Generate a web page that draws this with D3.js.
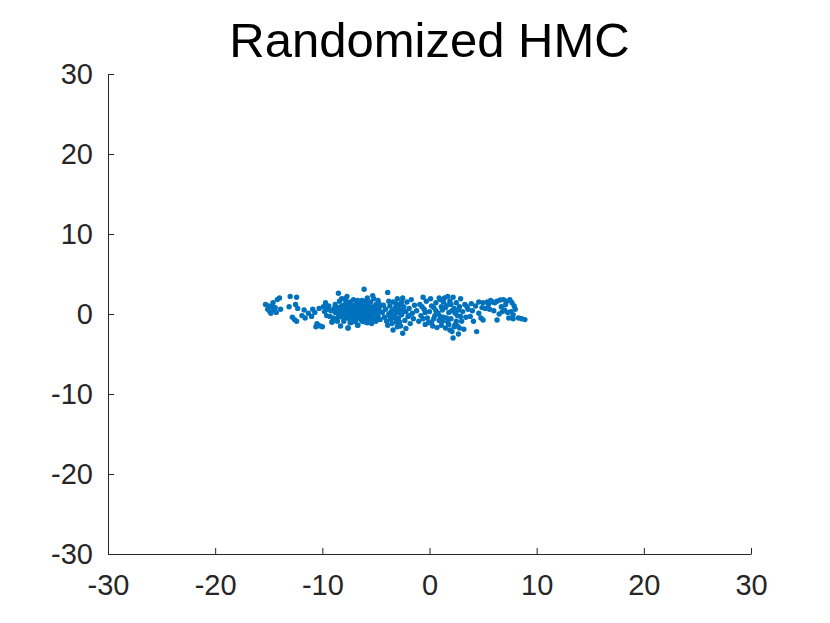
<!DOCTYPE html>
<html lang="en">
<head>
    <meta charset="UTF-8">
    <script src="https://cdnjs.cloudflare.com/ajax/libs/d3/7.8.5/d3.min.js"></script>
    <title>Randomized HMC</title>
    <style>
        body { margin: 0; background: #fff; }
        text { font-family: "Liberation Sans", Arial, Helvetica, sans-serif; }
    </style>
</head>
<body>
<script>

    // sample points, grouped by region along x
    let ptsWest = [
        [-15.3,1.2],[-15.1,0.6],[-14.9,0.3],[-14.7,0.9],[-14.5,0.5],[-14.3,0.2],[-14.6,1.4],[-14.2,1.8],
        [-14.0,2.0],[-14.4,0.8],[-15.0,1.0],[-13.9,0.6],[-13.0,2.2],[-12.4,2.1],[-13.1,0.9],[-12.5,1.2],
        [-12.3,0.7],[-12.6,-0.7],[-12.4,-0.9],[-11.7,0.5],[-11.3,0.1],[-11.6,-0.5],[-11.0,-0.3],[-11.9,-0.2],
        [-12.8,-0.4],[-10.7,0.2],[-10.3,0.7],[-9.9,0.9],[-10.4,-1.4],[-10.6,-1.6],[-10.2,-1.5],[-10.5,-1.2],
        [-10.0,-1.6],[-9.8,0.3],[-9.6,-0.2],[-9.4,1.0],[-9.2,0.4],[-9.0,-0.5],[-9.1,-1.0],[-9.5,0.6],[-9.3,-0.3],
        [-14.8,0.1],[-10.9,0.6],[-9.7,1.4]
    ];

    let ptsCore = [
        [-8.8,0.2],[-8.8,1.2],[-8.7,-0.6],[-8.5,2.6],[-8.5,0.8],[-8.4,-0.2],[-8.3,-1.5],[-8.6,0.1],[-8.4,1.6],
        [-8.2,0.5],[-8.1,-0.4],[-8.2,1.9],[-8.0,1.1],[-8.1,0.0],[-8.0,-0.9],[-7.9,0.3],[-7.8,0.9],[-7.7,-0.2],
        [-7.8,1.6],[-7.6,-1.75],[-7.7,2.2],[-7.6,0.5],[-7.5,-0.6],[-7.4,0.1],[-7.3,1.2],[-7.4,-1.1],[-7.2,0.7],
        [-7.3,-0.3],[-7.1,1.8],[-7.2,0.0],[-7.0,-0.8],[-7.1,0.4],[-7.0,1.0],[-6.9,-0.1],[-6.9,0.6],[-6.8,-0.5],
        [-6.8,1.4],[-6.7,0.2],[-6.7,-1.4],[-6.6,0.8],[-6.6,-0.2],[-6.5,0.3],[-6.5,1.1],[-6.4,-0.7],[-6.4,0.0],
        [-6.3,0.6],[-6.3,1.7],[-6.2,-0.3],[-6.2,0.9],[-6.1,3.1],[-6.1,0.1],[-6.0,-1.0],[-6.0,0.5],[-5.9,1.3],
        [-5.9,-0.1],[-5.8,0.8],[-5.8,2.0],[-5.7,0.2],[-5.7,-0.6],[-5.6,1.0],[-5.6,0.4],[-5.5,-0.2],[-5.5,1.5],
        [-5.4,0.7],[-5.4,-1.2],[-5.3,0.1],[-5.3,2.3],[-5.2,0.9],[-5.2,-0.5],[-5.1,0.4],[-5.0,1.2],[-5.0,-0.9],
        [-4.9,0.6],[-4.9,0.0],[-4.8,1.7],[-4.8,-0.3],[-4.7,0.8],[-4.6,-0.7],
        [-8.3,0.4],[-7.9,-0.5],[-7.5,0.8],[-7.0,0.2],[-6.8,0.0],[-6.6,0.4],[-6.4,1.2],[-6.2,0.3],[-6.9,1.1],
        [-7.3,0.5],[-7.6,-0.2],[-5.9,0.6],[-5.6,-0.3],[-6.1,-0.4],[-7.1,-0.4],[-6.5,-0.3],[-8.0,0.6],[-7.8,0.0],
        [-6.0,0.0],[-5.4,0.3],[-9.1,-1.0],[-7.6,-1.75],[-6.7,-1.4],[-5.8,-1.1],[-5.1,-0.75],[-7.2,-1.0],
        [-6.3,-0.9],[-8.6,-0.9],[-7.7,1.3],[-6.0,1.6],[-5.2,1.9],[-8.9,0.7],
        [-8.7,0.5],[-8.5,-0.4],[-8.2,1.0],[-7.9,1.9],[-7.5,0.2],[-7.4,1.5],[-7.0,0.6],[-6.7,1.7],[-6.5,0.7],
        [-6.3,0.2],[-6.0,0.9],[-5.7,1.3],[-5.5,0.5],[-5.3,-0.8],[-5.0,0.2],[-4.7,1.3],[-4.6,0.3],[-6.9,-0.9],
        [-7.7,0.6],[-8.0,-0.3]
    ];

    let ptsMid = [
        [-4.4,0.2],[-4.2,-0.4],[-4.1,0.6],[-3.9,2.7],[-3.9,-1.4],[-3.8,0.0],[-3.7,1.0],[-3.6,-0.7],[-3.5,0.4],
        [-3.4,-2.0],[-3.4,1.5],[-3.3,-0.2],[-3.2,0.8],[-3.1,-1.0],[-3.0,0.2],[-3.0,1.9],[-2.9,-0.5],[-2.8,1.2],
        [-2.7,-1.5],[-2.7,0.5],[-2.6,-0.1],[-2.5,2.0],[-2.5,-2.4],[-2.4,0.9],[-2.3,-0.8],[-2.2,0.3],[-2.1,1.5],
        [-2.0,-0.3],[-1.9,0.7],[-1.8,-1.2],[-1.7,1.8],[-1.6,0.1],[-1.5,-0.6],[-1.4,1.1],[-3.6,0.2],[-3.2,-0.5],
        [-2.9,0.6],[-3.5,-1.2],[-2.6,1.5],[-4.0,-0.9],[-3.8,1.6],[-2.2,-1.8],[-1.9,-0.2],
        [-3.3,0.5],[-3.1,1.3],[-2.8,-1.0],[-3.7,-0.3],[-2.4,0.3],[-3.0,-1.6],[-4.3,1.1],
        [-1.2,0.4],[-1.0,-0.9],[-0.9,1.2],[-0.8,-0.2],[-0.6,2.1],[-0.5,0.6],[-0.4,-1.3],[-0.3,1.6],[-0.2,-0.5],
        [0.0,0.3],[0.1,1.9],[0.2,-1.0],[0.3,-1.5],[0.4,0.8],[0.5,-0.2],[0.6,1.4],[0.7,-1.7],[0.8,0.1],[0.9,-0.8],
        [1.0,1.8],[1.1,-1.4],[1.2,0.5],[1.3,-0.4],[1.4,2.0],[1.5,-1.75],[1.6,1.1],[1.7,-1.0],[1.8,0.2],[1.9,1.6],
        [2.0,-0.6],[2.1,-2.2],[2.2,2.1],[2.2,-3.0],[2.3,0.7],[2.4,-1.3],[2.5,1.4],[2.6,-0.2],[2.7,-2.5],
        [2.8,-1.75],[2.8,0.9],[2.9,1.9],[3.0,-0.9],[3.1,0.3],[3.2,-1.9],[3.3,1.2],[3.4,-0.4],
        [-0.7,0.9],[0.2,1.0],[1.0,-0.3],[1.5,0.8],[2.0,1.2],[2.5,-0.9],[0.6,0.4],[-0.1,-1.1],[1.3,1.5],
        [2.9,-0.3],[0.9,2.0],[1.8,-1.3],[2.4,0.1],[1.1,0.9],[-0.4,0.2],[1.7,2.2],[2.6,-1.5],
        [1.9,-2.0],[2.3,-1.6],[1.6,-0.5],[2.1,0.4],[0.4,-0.6],[-0.6,-0.6],[1.2,-0.9],[2.7,0.5]
    ];

    let ptsEast = [
        [3.6,0.6],[3.5,0.9],[3.8,-0.3],[4.0,0.4],[4.1,-0.9],[4.4,-2.2],[4.3,1.0],[4.6,0.1],[4.8,-0.5],
        [5.0,-0.75],[5.2,0.7],[5.4,1.5],[5.5,1.2],[5.7,1.7],[5.9,1.5],[6.1,1.4],[6.3,1.6],[6.3,-0.75],
        [6.0,0.4],[6.6,1.75],[6.9,1.8],[7.2,1.6],[7.5,1.8],[7.7,1.4],[7.9,1.0],[8.0,0.6],[7.6,0.3],
        [7.3,0.2],[7.0,0.5],[6.7,0.9],[6.8,0.3],[7.8,-0.1],[8.3,-0.5],[8.6,-0.6],[8.9,-0.7],[7.4,-0.5],
        [6.5,0.0],[5.6,0.6],[4.9,0.8],[3.9,1.3],[7.1,1.2],[7.8,-0.6],[4.6,1.5],[5.0,1.4]
    ];

    let points = ptsWest.concat(ptsCore, ptsMid, ptsEast);

    let xTicks = [-30, -20, -10, 0, 10, 20, 30];
    let yTicks = [-30, -20, -10, 0, 10, 20, 30];
    let title = "Randomized HMC";

    // plot box
    let margin = {top: 74, right: 79, bottom: 69, left: 108};
    let width = 830 - margin.left - margin.right;
    let height = 623 - margin.top - margin.bottom;

    let x = d3.scaleLinear().domain([-30, 30]).range([0, width]);
    let y = d3.scaleLinear().domain([-30, 30]).range([height, 0]);

    let svg = d3.select("body").append("svg")
        .attr("width", 830)
        .attr("height", 623);

    let g = svg.append("g")
        .attr("transform", "translate(" + margin.left + "," + margin.top + ")");

    // points
    g.selectAll("circle")
        .data(points)
        .enter().append("circle")
        .attr("cx", function(d) { return x(d[0]); })
        .attr("cy", function(d) { return y(d[1]); })
        .attr("r", 2.7)
        .attr("fill", "#0072BD");

    // plain hyphen minus like matlab, not the unicode minus
    let fmt = function(d) { return String(d); };

    // axes, ticks pointing inwards
    let xAxis = g.append("g")
        .attr("transform", "translate(0," + height + ")")
        .call(d3.axisBottom(x).tickValues(xTicks).tickFormat(fmt)
            .tickSizeInner(-6).tickSizeOuter(0).tickPadding(20));

    let yAxis = g.append("g")
        .call(d3.axisLeft(y).tickValues(yTicks).tickFormat(fmt)
            .tickSizeInner(-6).tickSizeOuter(0).tickPadding(15));

    [xAxis, yAxis].forEach(function(a) {
        a.select(".domain").attr("stroke", "#262626").attr("stroke-width", 1);
        a.selectAll(".tick line").attr("stroke", "#262626");
        a.selectAll(".tick text")
            .attr("fill", "#262626")
            .style("font-size", "29px")
            .style("font-family", "'Liberation Sans', Arial, sans-serif");
    });

    // title
    svg.append("text")
        .attr("x", margin.left + width / 2)
        .attr("y", 57)
        .attr("text-anchor", "middle")
        .attr("fill", "#000")
        .style("font-size", "49px")
        .text(title);

</script>
</body>
</html>
